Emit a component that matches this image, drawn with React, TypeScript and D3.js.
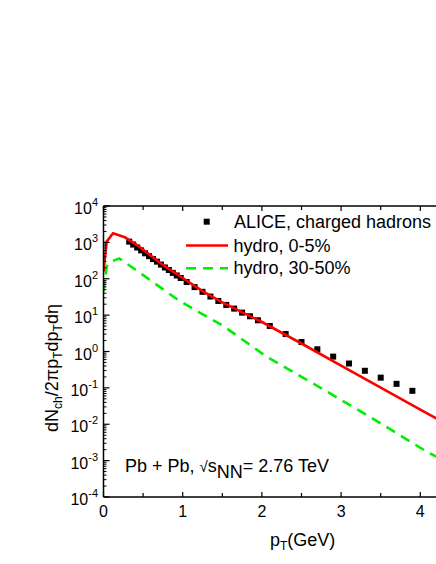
import React from "react";
import * as d3 from "d3";

// ALICE charged hadrons (pT in GeV, yield)
const alicePt = [
  0.325, 0.375, 0.425, 0.475, 0.525, 0.575, 0.625, 0.675, 0.725, 0.775, 0.825,
  0.875, 0.925, 0.975, 1.05, 1.15, 1.25, 1.35, 1.45, 1.55, 1.65, 1.75, 1.85,
  1.95, 2.1, 2.3, 2.5, 2.7, 2.9, 3.1, 3.3, 3.5, 3.7, 3.9,
];
const aliceVal = [
  1047, 871, 724, 603, 501, 417, 347, 295, 245, 204, 174, 145, 123, 105, 81.3,
  58.9, 43.7, 32.4, 24.5, 19.1, 15.1, 11.7, 9.3, 7.2, 5.01, 3.02, 1.82, 1.15,
  0.724, 0.468, 0.295, 0.191, 0.129, 0.083,
];

// hydro 0-5%
const hydroCentralPt = [0, 0.04, 0.12, 0.27, 0.44, 0.75, 1.0, 1.25, 1.5, 2.0, 2.5, 3.0, 3.5, 4.0, 4.25];
const hydroCentralVal = [158, 1050, 1780, 1380, 794, 240, 105, 45.7, 22.4, 6.46, 1.66, 0.407, 0.102, 0.0251, 0.0126];

// hydro 30-50%
const hydroPeriphPt = [0, 0.04, 0.07, 0.2, 0.5, 0.94, 1.22, 1.5, 2.06, 2.5, 2.78, 3.39, 4.1, 4.25];
const hydroPeriphVal = [45, 214, 282, 363, 126, 26.3, 11.5, 5.25, 0.72, 0.2, 0.089, 0.0148, 0.00166, 0.00115];

const xTicks = [0, 1, 2, 3, 4];
const xMinorTicks = [0.5, 1.5, 2.5, 3.5];
const yExponents = [4, 3, 2, 1, 0, -1, -2, -3, -4];

const legendLabels = ["ALICE, charged hadrons", "hydro, 0-5%", "hydro, 30-50%"];

const W = 436;
const H = 564;
const left = 103.5;
const right = 499.5;
const top = 206;
const bottom = 497;

export default function App() {
  const x = d3.scaleLinear().domain([0, 5]).range([left, right]);
  const y = d3.scaleLog().domain([1e-4, 1e4]).range([bottom, top]);

  const line = d3
    .line<[number, number]>()
    .x((d) => x(d[0]))
    .y((d) => y(d[1]));

  const central = hydroCentralPt.map((p, i) => [p, hydroCentralVal[i]] as [number, number]);
  const periph = hydroPeriphPt.map((p, i) => [p, hydroPeriphVal[i]] as [number, number]);

  const minorY: number[] = [];
  for (let e = -4; e < 4; e++) {
    for (let m = 2; m <= 9; m++) minorY.push(m * Math.pow(10, e));
  }

  const font = "'Liberation Sans', Arial, sans-serif";
  const sq = 6;

  return (
    <svg
      width={W}
      height={H}
      style={{ position: "absolute", left: 0, top: 0, background: "#fff" }}
      fontFamily={font}
    >
      <defs>
        <clipPath id="plot">
          <rect x={left} y={top} width={W - left} height={bottom - top} />
        </clipPath>
      </defs>

      {/* data */}
      <g clipPath="url(#plot)">
        {alicePt.map((p, i) => (
          <rect
            key={i}
            x={x(p) - sq / 2}
            y={y(aliceVal[i]) - sq / 2}
            width={sq}
            height={sq}
            fill="#000"
          />
        ))}
        <path d={line(periph) || ""} fill="none" stroke="#00ee00" strokeWidth={2.6} strokeDasharray="10,7" />
        <path d={line(central) || ""} fill="none" stroke="#ff0000" strokeWidth={2.6} />
      </g>

      {/* axes frame */}
      <g stroke="#000" strokeWidth={1.5} fill="none">
        <line x1={left} y1={top} x2={left} y2={bottom} />
        <line x1={left} y1={bottom} x2={W} y2={bottom} />
        <line x1={left} y1={top} x2={W} y2={top} />
      </g>

      {/* ticks */}
      <g stroke="#000" strokeWidth={1.2}>
        {xTicks.map((t) => (
          <g key={"xt" + t}>
            <line x1={x(t)} x2={x(t)} y1={bottom} y2={bottom - 5} />
            <line x1={x(t)} x2={x(t)} y1={top} y2={top + 5} />
          </g>
        ))}
        {xMinorTicks.map((t) => (
          <g key={"xm" + t}>
            <line x1={x(t)} x2={x(t)} y1={bottom} y2={bottom - 4} />
            <line x1={x(t)} x2={x(t)} y1={top} y2={top + 4} />
          </g>
        ))}
        {yExponents.map((e) => (
          <line key={"ym" + e} x1={left} x2={left + 6} y1={y(Math.pow(10, e))} y2={y(Math.pow(10, e))} />
        ))}
        {minorY.map((v, i) => (
          <line key={"yn" + i} x1={left} x2={left + 3} y1={y(v)} y2={y(v)} strokeWidth={1} />
        ))}
      </g>

      {/* x tick labels */}
      {xTicks.map((t) => (
        <text key={"xl" + t} x={x(t)} y={517} fontSize={16} textAnchor="middle" fill="#000">
          {t}
        </text>
      ))}

      {/* y tick labels */}
      {yExponents.map((e) => (
        <text key={"yl" + e} x={98} y={y(Math.pow(10, e)) + 8} fontSize={16} textAnchor="end" fill="#000">
          10
          <tspan dy={-8} fontSize={11}>
            {e < 0 ? "-" + Math.abs(e) : String(e)}
          </tspan>
        </text>
      ))}

      {/* y axis title */}
      <text
        transform={`translate(58,368) rotate(-90)`}
        fontSize={18}
        textAnchor="middle"
        fill="#000"
      >
        dN
        <tspan dy={4} fontSize={12}>ch</tspan>
        <tspan dy={-4}>/2πp</tspan>
        <tspan dy={4} fontSize={12}>T</tspan>
        <tspan dy={-4}>dp</tspan>
        <tspan dy={4} fontSize={12}>T</tspan>
        <tspan dy={-4}>dη</tspan>
      </text>

      {/* x axis title */}
      <text x={270} y={546} fontSize={18} fill="#000">
        p
        <tspan dy={4} fontSize={12}>T</tspan>
        <tspan dy={-4}>(GeV)</tspan>
      </text>

      {/* legend */}
      <rect x={206.7 - sq / 2} y={221.7 - sq / 2} width={sq} height={sq} fill="#000" />
      <text x={234} y={228} fontSize={18} fill="#000">{legendLabels[0]}</text>
      <line x1={186} x2={228} y1={245.5} y2={245.5} stroke="#ff0000" strokeWidth={2.6} />
      <text x={233.5} y={251.5} fontSize={18} fill="#000">{legendLabels[1]}</text>
      <line x1={186} x2={228} y1={268.3} y2={268.3} stroke="#00ee00" strokeWidth={2.6} strokeDasharray="10,7" />
      <text x={233.5} y={274} fontSize={18} fill="#000">{legendLabels[2]}</text>

      {/* annotation */}
      <text x={125} y={472} fontSize={18} fill="#000">
        Pb + Pb, <tspan fontSize={15}>√</tspan>s
        <tspan dy={6}>NN</tspan>
        <tspan dy={-6}>= 2.76 TeV</tspan>
      </text>
    </svg>
  );
}
